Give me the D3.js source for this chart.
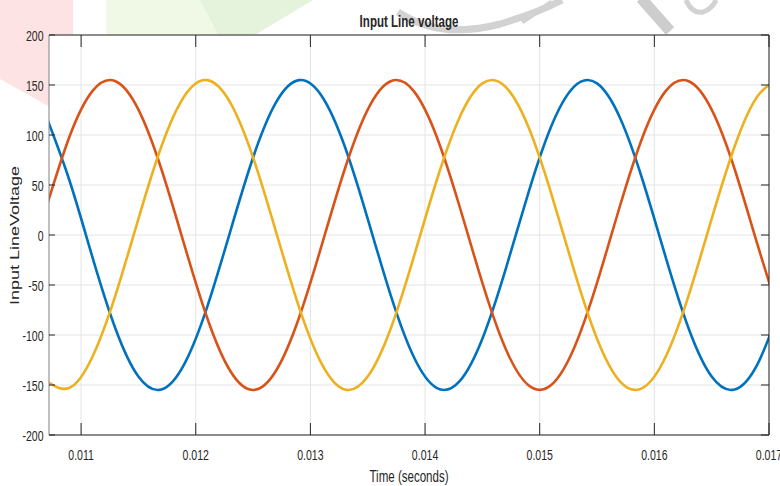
<!DOCTYPE html>
<html><head><meta charset="utf-8">
<script src="https://cdn.jsdelivr.net/npm/d3@7"></script>
<style>
body{margin:0;background:#fff}
svg{display:block}
text{font-family:"Liberation Sans",Arial,sans-serif;fill:#262626}
</style>
</head><body>
<svg id="chart" width="780" height="486"></svg>
<script>
'use strict';
// sample times (s)
const timeS = [0.0107,0.0109,0.0111,0.0113,0.0115,0.0117,0.0119,0.0121,0.0123,0.0125,0.0127,
  0.0129,0.0131,0.0133,0.0135,0.0137,0.0139,0.0141,0.0143,0.0145,0.0147,0.0149,0.0151,0.0153,
  0.0155,0.0157,0.0159,0.0161,0.0163,0.0165,0.0167,0.0169,0.0171];
// phase voltages
const phaseA = [117.3,54.0,-22.6,-93.7,-141.6,-154.5,-129.1,-71.8,3.2,77.5,132.6,154.9,138.8,88.5,16.2,
  -60.1,-121.5,-152.8,-146.4,-103.7,-35.4,41.7,108.5,148.4,151.6,117.3,54.0,-22.6,-93.7,-141.6,-154.5,-129.1,-71.8];
const phaseB = [29.0,98.8,144.1,153.8,125.4,66.0,-9.7,-83.0,-135.8,-155.0,-135.8,-83.0,-9.7,66.0,125.4,
  153.8,144.1,98.8,29.0,-47.9,-113.0,-150.1,-150.1,-113.0,-47.9,29.0,98.8,144.1,153.8,125.4,66.0,-9.7,-83.0];
const phaseC = [-146.4,-152.8,-121.5,-60.1,16.2,88.5,138.8,154.9,132.6,77.5,3.2,-71.8,-129.1,-154.5,-141.6,
  -93.7,-22.6,54.0,117.3,151.6,148.4,108.5,41.7,-35.4,-103.7,-146.4,-152.8,-121.5,-60.1,16.2,88.5,138.8,154.9];
const xTicks = [0.011,0.012,0.013,0.014,0.015,0.016,0.017];
const yTicks = [-200,-150,-100,-50,0,50,100,150,200];
const xDomain = [0.01072, 0.017];
const yDomain = [-200, 200];

const svg = d3.select('#chart');
const L = 49, R = 769, T = 35, B = 435, SX = 0.68;

// faded watermark behind the figure
const wm = svg.append('g').attr('fill','none');
wm.append('path').attr('d','M0,0L73,0L73,120L0,79Z').attr('fill','#fde3e3');
wm.append('path').attr('d','M106,0L200,0L218,35L106,35Z').attr('fill','#f0f9e6');
wm.append('path').attr('d','M200,0L313,0L255,35L218,35Z').attr('fill','#e5f2dc');
wm.append('path').attr('d','M398,12Q440,40 500,24Q540,12 562,0').attr('stroke','#d2d2d2').attr('stroke-width',7);
wm.append('path').attr('d','M522,22L552,2').attr('stroke','#d2d2d2').attr('stroke-width',5);
wm.append('path').attr('d','M641,-2L670,31').attr('stroke','#cdcdcd').attr('stroke-width',11);
wm.append('path').attr('d','M686,0Q692,14 703,12Q712,9 716,0').attr('stroke','#d2d2d2').attr('stroke-width',5);

const x = d3.scaleLinear().domain(xDomain).range([L, R]);
const y = d3.scaleLinear().domain(yDomain).range([B, T]);

svg.append('rect').attr('x',L).attr('y',T).attr('width',R-L).attr('height',B-T).attr('fill','#fff');

// grid
const grid = svg.append('g').attr('stroke','#e4e4e4').attr('stroke-width',1);
xTicks.forEach(v => grid.append('line').attr('x1',x(v)).attr('x2',x(v)).attr('y1',T).attr('y2',B));
yTicks.forEach(v => grid.append('line').attr('x1',L).attr('x2',R).attr('y1',y(v)).attr('y2',y(v)));

svg.append('clipPath').attr('id','clip').append('rect').attr('x',L).attr('y',T).attr('width',R-L).attr('height',B-T);

const line = d3.line().x((d,i)=>x(timeS[i])).y(d=>y(d)).curve(d3.curveNatural);
const series = [{v:phaseA,c:'#0072bd'},{v:phaseB,c:'#d95319'},{v:phaseC,c:'#edb120'}];
const lines = svg.append('g').attr('clip-path','url(#clip)');
series.forEach(s => lines.append('path').attr('d',line(s.v)).attr('fill','none')
  .attr('stroke',s.c).attr('stroke-width',2.6).attr('stroke-linejoin','round'));

// axes box with inward ticks
const ax = svg.append('g').attr('fill','none');
ax.append('line').attr('x1',L).attr('x2',R).attr('y1',T).attr('y2',T).attr('stroke','#262626');
ax.append('line').attr('x1',L).attr('x2',R).attr('y1',B).attr('y2',B).attr('stroke','#262626');
ax.append('line').attr('x1',R).attr('x2',R).attr('y1',T).attr('y2',B).attr('stroke','#262626');
ax.append('line').attr('x1',L).attr('x2',L).attr('y1',T).attr('y2',B).attr('stroke','#808080');
xTicks.forEach(v => {
  ax.append('line').attr('x1',x(v)).attr('x2',x(v)).attr('y1',B).attr('y2',B-12).attr('stroke','#262626');
  ax.append('line').attr('x1',x(v)).attr('x2',x(v)).attr('y1',T).attr('y2',T+12).attr('stroke','#262626');
});
yTicks.forEach(v => {
  ax.append('line').attr('x1',L).attr('x2',L+6).attr('y1',y(v)).attr('y2',y(v)).attr('stroke','#262626');
  ax.append('line').attr('x1',R).attr('x2',R-8).attr('y1',y(v)).attr('y2',y(v)).attr('stroke','#262626');
});

// squeezed text, as in the source figure
function label(px, py, txt, size, anchor, weight) {
  return svg.append('text').attr('transform',`translate(${px},${py}) scale(${SX},1)`)
    .attr('text-anchor',anchor).style('font-size',size+'px').style('font-weight',weight||'normal').text(txt);
}
xTicks.forEach(v => label(x(v), 460, d3.format('.3f')(v), 15.5, 'middle'));
yTicks.forEach(v => label(43.5, y(v)+6, v, 15.5, 'end'));
label((L+R)/2, 27, 'Input Line voltage', 17, 'middle', 'bold');
label((L+R)/2, 482, 'Time (seconds)', 17, 'middle');
svg.append('text').attr('transform',`translate(18.5,235.5) rotate(-90) scale(1,${SX})`)
  .attr('text-anchor','middle').style('font-size','18px').text('Input LineVoltage');
</script>
</body></html>
